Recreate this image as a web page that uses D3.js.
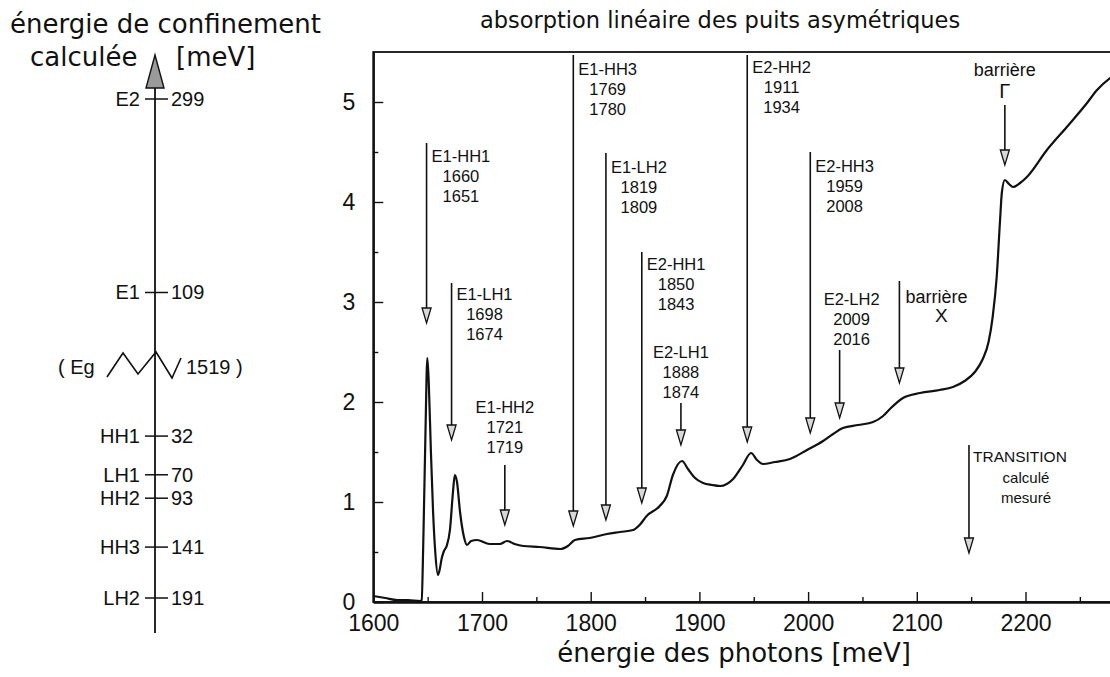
<!DOCTYPE html>
<html>
<head>
<meta charset="utf-8">
<script src="https://cdn.jsdelivr.net/npm/d3@7"></script>
<style>
  body { margin: 0; background: #fff; }
  svg { display: block; background: #fff; }
  text { font-family: "Liberation Sans", Arial, Helvetica, sans-serif; fill: #111; }
  .wide { font-family: "DejaVu Sans", Verdana, sans-serif; }
</style>
</head>
<body>
<svg id="chart" width="1110" height="677"></svg>
<script>
// ---- absorption spectrum (photon energy in meV, absorption in arbitrary units)
const photonEnergy = [
  1600, 1611, 1622, 1632, 1643, 1644.5, 1646, 1648, 1649.7, 1651, 1653, 1655, 1657, 1659.5,
  1661, 1663, 1665, 1667.5, 1670.5, 1673.3, 1675, 1677, 1679.8, 1683.4, 1686.2, 1690, 1695.4,
  1707, 1716.5, 1723, 1730, 1738, 1753, 1772, 1779, 1785.5, 1799, 1815, 1827, 1839, 1845,
  1851.5, 1863.5, 1870, 1875.6, 1884, 1889.5, 1896, 1903.4, 1911.6, 1919, 1931, 1940, 1947.5,
  1953, 1958.5, 1969.5, 1983.3, 1999, 2013.8, 2023, 2032, 2046, 2059.8, 2069, 2075.3, 2087.3,
  2103, 2121, 2133.2, 2144, 2153.4, 2160.7, 2166, 2169.8, 2173.5, 2176.5, 2178.3, 2181,
  2184.8, 2188.5, 2195, 2201.3, 2219.7, 2238, 2256.6, 2265.8, 2277.8, 2290
];
const absorption = [
  0.06, 0.04, 0.02, 0.02, 0.01, 0.02, 0.6, 1.7, 2.44, 2.2, 1.5, 0.9, 0.5, 0.27,
  0.32, 0.44, 0.51, 0.56, 0.72, 1.1, 1.27, 1.2, 0.9, 0.65, 0.57, 0.61, 0.62,
  0.58, 0.58, 0.61, 0.58, 0.56, 0.55, 0.53, 0.56, 0.62, 0.64, 0.68, 0.70, 0.72, 0.77,
  0.86, 0.96, 1.06, 1.27, 1.41, 1.33, 1.24, 1.19, 1.17, 1.16, 1.23, 1.37, 1.49,
  1.42, 1.38, 1.40, 1.43, 1.52, 1.61, 1.68, 1.74, 1.77, 1.80, 1.86, 1.93, 2.04,
  2.09, 2.12, 2.15, 2.21, 2.30, 2.43, 2.60, 2.85, 3.25, 3.80, 4.10, 4.22,
  4.18, 4.15, 4.19, 4.25, 4.52, 4.75, 4.99, 5.12, 5.24, 5.32
];
const xTicks = [1600, 1700, 1800, 1900, 2000, 2100, 2200];
const xMinorTicks = [1650, 1750, 1850, 1950, 2050, 2150, 2250];
const yTicks = [0, 1, 2, 3, 4, 5];
const yMinorTicks = [0.5, 1.5, 2.5, 3.5, 4.5];

// ---- optical transitions: name, calculated and measured energies (meV)
const transitionNames = ["E1-HH1", "E1-LH1", "E1-HH2", "E1-HH3", "E1-LH2", "E2-HH1", "E2-LH1", "E2-HH2", "E2-HH3", "E2-LH2"];
const calculatedEnergy = [1660, 1698, 1721, 1769, 1819, 1850, 1888, 1911, 1959, 2009];
const measuredEnergy = [1651, 1674, 1719, 1780, 1809, 1843, 1874, 1934, 2008, 2016];
// spectral feature each arrow points at (meV)
const pointerEnergy = [1649, 1672, 1721, 1784, 1814, 1847, 1883, 1944, 2002, 2029];

// ---- barrier edges
const barrierNames = ["X", "Γ"];
const barrierEnergy = [2084, 2181];

// ---- calculated confinement energies (meV)
const levelNames = ["E2", "E1", "HH1", "LH1", "HH2", "HH3", "LH2"];
const levelEnergy = [299, 109, 32, 70, 93, 141, 191];
const levelBand = ["e", "e", "h", "h", "h", "h", "h"];
const gapEnergy = 1519;

// ---------------------------------------------------------------
const svg = d3.select("#chart");

// ===== spectrum panel =====
const x = d3.scaleLinear().domain([1600, 2300]).range([373.3, 1134.2]);
const y = d3.scaleLinear().domain([0, 5.5]).range([602, 52]);

// frame
svg.append("rect")
  .attr("x", x(1600)).attr("y", y(5.5))
  .attr("width", x(2300) - x(1600)).attr("height", y(0) - y(5.5))
  .attr("fill", "none").attr("stroke", "#111").attr("stroke-width", 1.8);

// axes with inward ticks
const styleAxis = g => {
  g.selectAll(".domain").attr("stroke", "#111").attr("stroke-width", 1.8);
  g.selectAll(".tick line").attr("stroke", "#111").attr("stroke-width", 1.4);
};
svg.append("g").attr("transform", `translate(0,${y(0)})`)
  .call(d3.axisBottom(x).tickValues(xTicks).tickSizeInner(-10).tickSizeOuter(0).tickPadding(13).tickFormat(d3.format("d")))
  .call(styleAxis)
  .call(g => g.selectAll("text").attr("font-size", 23).attr("font-family", "Liberation Sans, Arial, sans-serif").attr("fill", "#111"));
svg.append("g").attr("transform", `translate(0,${y(0)})`)
  .call(d3.axisBottom(x).tickValues(xMinorTicks).tickSizeInner(-5).tickSizeOuter(0).tickFormat(""))
  .call(styleAxis);
svg.append("g").attr("transform", `translate(${x(1600)},0)`)
  .call(d3.axisLeft(y).tickValues(yTicks).tickSizeInner(-10).tickSizeOuter(0).tickPadding(18).tickFormat(d3.format("d")))
  .call(styleAxis)
  .call(g => g.selectAll("text").attr("font-size", 23).attr("font-family", "Liberation Sans, Arial, sans-serif").attr("fill", "#111"));
svg.append("g").attr("transform", `translate(${x(1600)},0)`)
  .call(d3.axisLeft(y).tickValues(yMinorTicks).tickSizeInner(-5).tickSizeOuter(0).tickFormat(""))
  .call(styleAxis);

// spectrum curve
const spectrum = photonEnergy.map((e, i) => [e, absorption[i]]);
svg.append("path")
  .datum(spectrum)
  .attr("fill", "none").attr("stroke", "#111").attr("stroke-width", 2.2)
  .attr("stroke-linejoin", "round")
  .attr("d", d3.line().x(d => x(d[0])).y(d => y(d[1])).curve(d3.curveMonotoneX));

// downward arrow with hollow head
function arrow(e, yTop, yTip) {
  const px = x(e), t = y(yTop), b = y(yTip);
  svg.append("line").attr("x1", px).attr("x2", px).attr("y1", t).attr("y2", b - 13)
    .attr("stroke", "#111").attr("stroke-width", 1.6);
  svg.append("path")
    .attr("d", `M${px - 4.5},${b - 15} L${px + 4.5},${b - 15} L${px},${b} Z`)
    .attr("fill", "#d8d8d8").attr("stroke", "#111").attr("stroke-width", 1.3);
}

// label block layout for each transition (positions in absorption units)
const labelLayout = [
  { side: "right", top: 4.59, tip: 2.79, text: 4.40 },
  { side: "right", top: 3.19, tip: 1.62, text: 3.02 },
  { side: "above", top: 1.37, tip: 0.77, text: 1.89, dx: 0 },
  { side: "right", top: 5.47, tip: 0.76, text: 5.27 },
  { side: "right", top: 4.49, tip: 0.82, text: 4.29 },
  { side: "right", top: 3.50, tip: 0.99, text: 3.32 },
  { side: "above", top: 1.99, tip: 1.57, text: 2.44, dx: 0 },
  { side: "right", top: 5.47, tip: 1.60, text: 5.29 },
  { side: "right", top: 4.50, tip: 1.69, text: 4.30 },
  { side: "above", top: 2.52, tip: 1.84, text: 2.97, dx: 12 }
];
const lineGap = 20;
const annFont = 16.5;

transitionNames.forEach((name, i) => {
  const L = labelLayout[i];
  const px = x(pointerEnergy[i]);
  arrow(pointerEnergy[i], L.top, L.tip);
  const lines = [name, String(calculatedEnergy[i]), String(measuredEnergy[i])];
  const g = svg.append("g");
  let cx;
  if (L.side === "right") {
    const t0 = g.append("text").attr("x", px + 5).attr("y", y(L.text))
      .attr("font-size", annFont).text(lines[0]);
    const w = t0.node().getComputedTextLength();
    cx = px + 5 + w / 2;
    lines.slice(1).forEach((s, k) => {
      g.append("text").attr("x", cx).attr("y", y(L.text) + lineGap * (k + 1))
        .attr("text-anchor", "middle").attr("font-size", annFont).text(s);
    });
  } else {
    cx = px + L.dx;
    lines.forEach((s, k) => {
      g.append("text").attr("x", cx).attr("y", y(L.text) + lineGap * k)
        .attr("text-anchor", "middle").attr("font-size", annFont).text(s);
    });
  }
});

// barrier X
arrow(barrierEnergy[0], 3.21, 2.19);
svg.append("text").attr("x", x(barrierEnergy[0]) + 6).attr("y", y(2.99))
  .attr("font-size", 18).text("barrière");
svg.append("text").attr("x", x(barrierEnergy[0]) + 42).attr("y", y(2.80))
  .attr("text-anchor", "middle").attr("font-size", 19).text(barrierNames[0]);

// barrier Γ
arrow(barrierEnergy[1], 4.97, 4.37);
svg.append("text").attr("x", x(barrierEnergy[1])).attr("y", y(5.26))
  .attr("text-anchor", "middle").attr("font-size", 18).text("barrière");
svg.append("text").attr("x", x(barrierEnergy[1])).attr("y", y(5.04))
  .attr("text-anchor", "middle").attr("font-size", 20).attr("font-family", "DejaVu Serif, serif").text(barrierNames[1]);

// key for the label blocks
arrow(2148, 1.57, 0.49);
svg.append("text").attr("x", x(2148) + 4).attr("y", y(1.40)).attr("font-size", 15.5).text("TRANSITION");
svg.append("text").attr("x", x(2148) + 57).attr("y", y(1.19)).attr("text-anchor", "middle").attr("font-size", 15).text("calculé");
svg.append("text").attr("x", x(2148) + 57).attr("y", y(0.99)).attr("text-anchor", "middle").attr("font-size", 15).text("mesuré");

// titles of the spectrum panel
svg.append("text").attr("class", "wide").attr("x", 720).attr("y", 28)
  .attr("text-anchor", "middle").attr("font-size", 22.5).text("absorption linéaire des puits asymétriques");
svg.append("text").attr("class", "wide").attr("x", 734).attr("y", 662)
  .attr("text-anchor", "middle").attr("font-size", 26).text("énergie des photons [meV]");

// ===== confinement energy diagram =====
const axisX = 155;
// electrons counted upward, holes downward, from a common band-edge origin
const ey = d3.scaleLinear().domain([-191, 299]).range([598, 99]);
const levelY = (v, band) => band === "e" ? ey(v) : ey(-v);

svg.append("line").attr("x1", axisX).attr("x2", axisX).attr("y1", 86).attr("y2", 633)
  .attr("stroke", "#111").attr("stroke-width", 1.8);
svg.append("path").attr("d", `M${axisX - 9},88 L${axisX + 9},88 L${axisX},55 Z`)
  .attr("fill", "#9a9a9a").attr("stroke", "#111").attr("stroke-width", 1.4);

levelNames.forEach((name, i) => {
  const yy = levelY(levelEnergy[i], levelBand[i]);
  svg.append("line").attr("x1", axisX - 10).attr("x2", axisX + 13).attr("y1", yy).attr("y2", yy)
    .attr("stroke", "#111").attr("stroke-width", 1.5);
  svg.append("text").attr("x", axisX - 15).attr("y", yy).attr("dy", "0.35em")
    .attr("text-anchor", "end").attr("font-size", 20).text(name);
  svg.append("text").attr("x", axisX + 16).attr("y", yy).attr("dy", "0.35em")
    .attr("font-size", 20).text(levelEnergy[i]);
});

// band gap break
svg.append("path")
  .attr("d", "M107,377 L123,353 L138,374 L156,352 L172,378 L181,358")
  .attr("fill", "none").attr("stroke", "#111").attr("stroke-width", 1.6);
svg.append("text").attr("x", 58).attr("y", 374).attr("font-size", 20).text("( Eg");
svg.append("text").attr("x", 186).attr("y", 374).attr("font-size", 20).text(`${gapEnergy} )`);

// titles of the diagram
svg.append("text").attr("class", "wide").attr("x", 10).attr("y", 33)
  .attr("font-size", 26).text("énergie de confinement");
svg.append("text").attr("class", "wide").attr("x", 30).attr("y", 66)
  .attr("font-size", 26).text("calculée");
svg.append("text").attr("class", "wide").attr("x", 176).attr("y", 66)
  .attr("font-size", 26).text("[meV]");
</script>
</body>
</html>
